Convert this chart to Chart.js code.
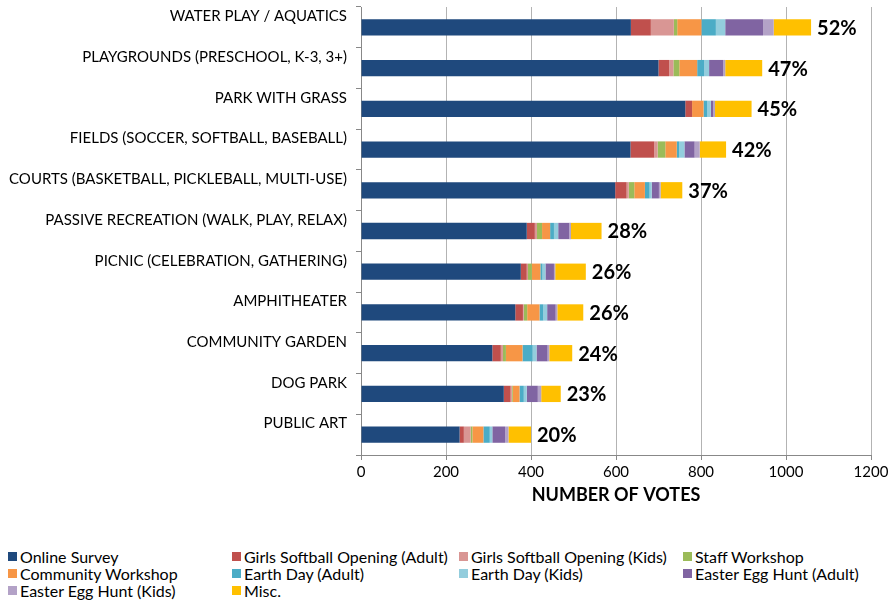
<!DOCTYPE html>
<html>
<head>
<meta charset="utf-8">
<script src="https://cdn.jsdelivr.net/npm/chart.js@4"></script>
<style>
  body { margin: 0; background: #fff; font-family: Lato, sans-serif; }
  #wrap { position: relative; width: 889px; height: 508px; }
  #legenda {
    position: absolute; left: 8px; top: 548px; width: 881px;
    display: grid; grid-template-columns: 224px 227px 224px 206px;
    font-size: 16px; line-height: 17px; color: #000;
  }
  #legenda div { display: flex; align-items: center; white-space: nowrap; }
  #legenda span.cor { width: 9px; height: 9px; margin-right: 3px; display: inline-block; flex: none; }
</style>
</head>
<body>
<div id="wrap"><canvas id="grafico"></canvas></div>
<div id="legenda"></div>
<script>
const categorias = [
  'WATER PLAY / AQUATICS',
  'PLAYGROUNDS (PRESCHOOL, K-3, 3+)',
  'PARK WITH GRASS',
  'FIELDS (SOCCER, SOFTBALL, BASEBALL)',
  'COURTS (BASKETBALL, PICKLEBALL, MULTI-USE)',
  'PASSIVE RECREATION (WALK, PLAY, RELAX)',
  'PICNIC (CELEBRATION, GATHERING)',
  'AMPHITHEATER',
  'COMMUNITY GARDEN',
  'DOG PARK',
  'PUBLIC ART'
];

const onlineSurvey      = [635, 700, 763, 634, 598, 390, 376, 363, 309, 336, 232];
const softballAdult     = [47, 25, 16, 56, 27, 19, 14, 18, 20, 16, 10];
const softballKids      = [54, 10, 0, 8, 5, 5, 3, 2, 5, 3, 16];
const staffWorkshop     = [8, 14, 0, 18, 13, 12, 9, 8, 7, 2, 4];
const communityWorkshop = [57, 42, 27, 27, 25, 19, 20, 29, 39, 16, 26];
const earthDayAdult     = [34, 16, 9, 6, 11, 9, 5, 9, 24, 10, 15];
const earthDayKids      = [22, 12, 8, 12, 5, 10, 7, 9, 9, 7, 6];
const easterAdult       = [89, 33, 6, 24, 17, 26, 20, 20, 26, 26, 30];
const easterKids        = [25, 5, 4, 12, 4, 4, 3, 4, 4, 8, 8];
const misc              = [88, 87, 86, 62, 51, 72, 72, 61, 54, 46, 53];

const percentuais = [52, 47, 45, 42, 37, 28, 26, 26, 24, 23, 20];

const xTicks = [0, 200, 400, 600, 800, 1000, 1200];

const series = [
  ['Online Survey', onlineSurvey, '#1f497d'],
  ['Girls Softball Opening (Adult)', softballAdult, '#c0504d'],
  ['Girls Softball Opening (Kids)', softballKids, '#d99694'],
  ['Staff Workshop', staffWorkshop, '#9bbb59'],
  ['Community Workshop', communityWorkshop, '#f79646'],
  ['Earth Day (Adult)', earthDayAdult, '#4bacc6'],
  ['Earth Day (Kids)', earthDayKids, '#93cddd'],
  ['Easter Egg Hunt (Adult)', easterAdult, '#8064a2'],
  ['Easter Egg Hunt (Kids)', easterKids, '#b3a2c7'],
  ['Misc.', misc, '#ffc000']
];

// percentage at the end of each stacked bar
const rotuloPercentual = {
  id: 'rotuloPercentual',
  afterDatasetsDraw(chart) {
    const ctx = chart.ctx;
    const meta = chart.getDatasetMeta(chart.data.datasets.length - 1);
    ctx.save();
    ctx.font = 'bold 20px Lato';
    ctx.fillStyle = '#000';
    ctx.textBaseline = 'middle';
    meta.data.forEach((bar, i) => {
      ctx.fillText(percentuais[i] + '%', bar.x + 6, bar.y + 1);
    });
    ctx.restore();
  }
};

const ctx = document.getElementById('grafico').getContext('2d');
const chart = new Chart(ctx, {
  type: 'bar',
  data: {
    labels: categorias,
    datasets: series.map(([nome, valores, cor]) => ({
      label: nome,
      data: valores,
      backgroundColor: cor,
      borderWidth: 0,
      barPercentage: 0.4,
      categoryPercentage: 1
    }))
  },
  options: {
    indexAxis: 'y',
    responsive: true,
    maintainAspectRatio: false,
    animation: false,
    layout: { padding: { top: 7, right: 18, left: 0, bottom: 0 } },
    plugins: {
      legend: { display: false },
      tooltip: { enabled: false }
    },
    scales: {
      x: {
        stacked: true,
        min: 0,
        max: 1200,
        afterBuildTicks: s => { s.ticks = xTicks.map(v => ({ value: v })); },
        afterFit: s => { s.height = 53; s.paddingRight = 0; },
        grid: { color: '#b3b3b3', tickLength: 5, tickColor: '#888' },
        border: { color: '#888' },
        ticks: {
          color: '#000',
          font: { family: 'Lato', size: 15 },
          padding: 3,
          callback: v => String(v)
        },
        title: {
          display: true,
          text: 'NUMBER OF VOTES',
          color: '#000',
          font: { family: 'Lato', size: 18, weight: 'bold' },
          padding: { top: 0, bottom: 2 }
        }
      },
      y: {
        stacked: true,
        afterFit: s => { s.width = 361; s.paddingTop = 0; s.paddingBottom = 0; },
        grid: { drawOnChartArea: false, tickLength: 5, tickColor: '#888' },
        border: { color: '#888' },
        ticks: {
          color: '#000',
          font: { family: 'Lato', size: 15 },
          labelOffset: -11,
          padding: 9
        }
      }
    }
  },
  plugins: [rotuloPercentual]
});

// legend in a fixed four-column grid
const legenda = document.getElementById('legenda');
series.forEach(([nome, , cor]) => {
  const item = document.createElement('div');
  const caixa = document.createElement('span');
  caixa.className = 'cor';
  caixa.style.background = cor;
  item.appendChild(caixa);
  item.appendChild(document.createTextNode(nome));
  legenda.appendChild(item);
});
</script>
</body>
</html>
